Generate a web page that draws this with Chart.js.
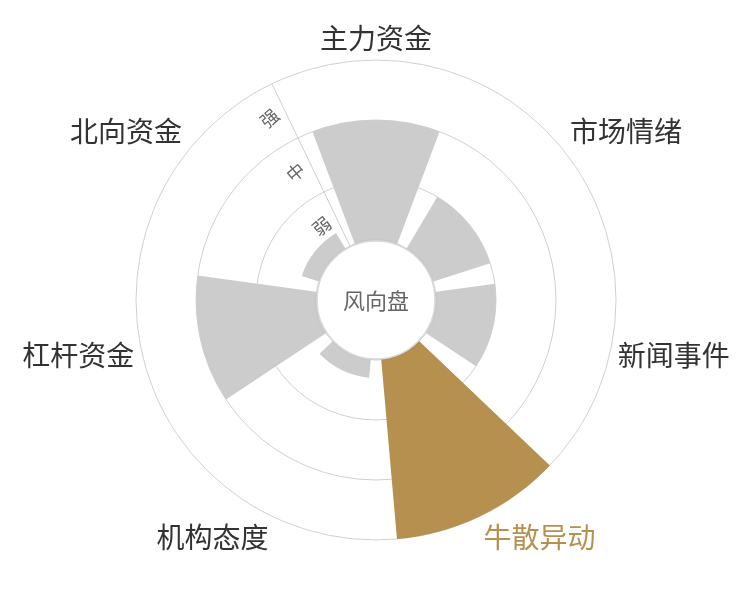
<!DOCTYPE html>
<html>
<head>
<meta charset="utf-8">
<script src="https://cdn.jsdelivr.net/npm/chart.js@4.4.1/dist/chart.umd.min.js"></script>
<style>
  body { margin: 0; background: #fff; }
</style>
</head>
<body>
<canvas id="windChart" width="750" height="600"></canvas>
<script>
// categories clockwise from the top
const categories = ['主力资金', '市场情绪', '新闻事件', '牛散异动', '机构态度', '杠杆资金', '北向资金'];
// radial value of each bar (1 = edge of the centre hole, 4 = outer ring)
const strength = [3, 2, 2, 4, 1.3, 3, 1.3];
const levelLabels = ['弱', '中', '强'];
const levelValues = [1.5, 2.5, 3.5];
const highlightIndex = 3;
const centerTitle = '风向盘';

const grey = '#cccccc';
const gold = '#b5904f';
const textColor = '#333333';
const sector = 360 / categories.length;
const barAngle = 41.4;
const gapAngle = sector - barAngle;

// bars and transparent gaps alternate round the circle
const arcData = [];
const arcColors = [];
const arcAngles = [];
const arcLabels = [];
strength.forEach((v, i) => {
    arcData.push(v, 0);
    arcColors.push(i === highlightIndex ? gold : grey, 'rgba(0,0,0,0)');
    arcAngles.push(barAngle, gapAngle);
    arcLabels.push(categories[i], '');
});

function polar(scale, deg, r) {
    const a = deg * Math.PI / 180;
    return [scale.xCenter + r * Math.sin(a), scale.yCenter - r * Math.cos(a)];
}

const windDecor = {
    id: 'windDecor',
    afterDatasetsDraw(chart) {
        const ctx = chart.ctx;
        const scale = chart.scales.r;
        const cx = scale.xCenter, cy = scale.yCenter;
        const outer = scale.getDistanceFromCenterForValue(4);
        const hole = scale.getDistanceFromCenterForValue(1);
        const axisDeg = -sector / 2;

        ctx.save();

        // radius axis line
        const p0 = polar(scale, axisDeg, hole);
        const p1 = polar(scale, axisDeg, outer);
        ctx.strokeStyle = '#cfcfcf';
        ctx.lineWidth = 1;
        ctx.beginPath();
        ctx.moveTo(p0[0], p0[1]);
        ctx.lineTo(p1[0], p1[1]);
        ctx.stroke();

        // centre disc
        ctx.save();
        ctx.shadowColor = 'rgba(0,0,0,0.15)';
        ctx.shadowBlur = 3;
        ctx.fillStyle = '#fff';
        ctx.beginPath();
        ctx.arc(cx, cy, hole - 1, 0, Math.PI * 2);
        ctx.fill();
        ctx.restore();
        ctx.strokeStyle = '#dadada';
        ctx.lineWidth = 1.5;
        ctx.beginPath();
        ctx.arc(cx, cy, hole - 1, 0, Math.PI * 2);
        ctx.stroke();

        ctx.fillStyle = '#666';
        ctx.font = '22px "Noto Sans CJK SC"';
        ctx.textAlign = 'center';
        ctx.textBaseline = 'middle';
        ctx.fillText(centerTitle, cx, cy + 1);

        // level labels along the axis line
        const a = axisDeg * Math.PI / 180;
        ctx.font = '18px "Noto Sans CJK SC"';
        ctx.fillStyle = '#666';
        levelLabels.forEach((t, i) => {
            const p = polar(scale, axisDeg, scale.getDistanceFromCenterForValue(levelValues[i]));
            const x = p[0] - Math.cos(a) * 17;
            const y = p[1] - Math.sin(a) * 17;
            ctx.save();
            ctx.translate(x, y);
            ctx.rotate(-40 * Math.PI / 180);
            ctx.fillText(t, 0, 0);
            ctx.restore();
        });

        // category labels
        ctx.font = '28px "Noto Sans CJK SC"';
        const lr = outer + 8;
        categories.forEach((t, i) => {
            const [x, y] = polar(scale, i * sector, lr);
            const dx = x - cx, dy = y - cy;
            ctx.textAlign = Math.abs(dx) / lr < 0.3 ? 'center' : (dx > 0 ? 'left' : 'right');
            ctx.textBaseline = Math.abs(dy) / lr < 0.3 ? 'middle' : (dy > 0 ? 'top' : 'bottom');
            ctx.fillStyle = i === highlightIndex ? gold : textColor;
            ctx.fillText(t, x, y);
        });

        ctx.restore();
    }
};

new Chart('windChart', {
    type: 'polarArea',
    data: {
        labels: arcLabels,
        datasets: [{
            data: arcData,
            backgroundColor: arcColors,
            borderWidth: 0,
            angle: ctx => arcAngles[ctx.dataIndex]
        }]
    },
    options: {
        responsive: false,
        animation: false,
        startAngle: -barAngle / 2,
        layout: { padding: { top: 60, bottom: 60, left: 2, right: 0 } },
        plugins: {
            legend: { display: false },
            tooltip: { enabled: false }
        },
        scales: {
            r: {
                min: 0,
                max: 4,
                startAngle: -barAngle / 2,
                ticks: { display: false, stepSize: 1 },
                grid: { circular: true, color: '#d0d0d0', lineWidth: 1 },
                angleLines: { display: false },
                pointLabels: { display: false }
            }
        }
    },
    plugins: [windDecor]
});
</script>
</body>
</html>
